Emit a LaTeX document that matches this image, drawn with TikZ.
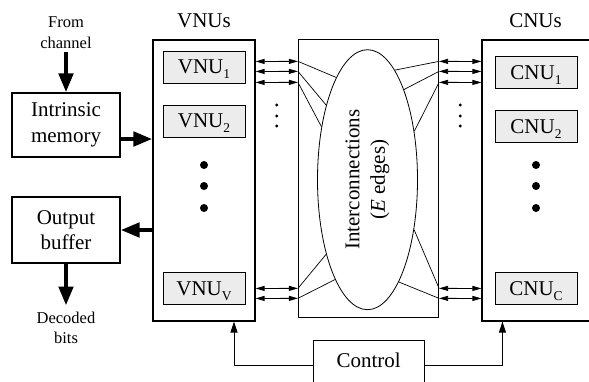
\documentclass[tikz,border=0pt]{standalone}
\usepackage{fontspec}
\setmainfont{Liberation Serif}
\usetikzlibrary{positioning,arrows.meta,shapes.geometric}
\definecolor{nuFill}{RGB}{236,236,236}
\newcommand{\nusub}[1]{\raisebox{-5pt}{\fontsize{13.5}{13.5}\selectfont #1}}

\begin{document}
\begin{tikzpicture}[x=1pt,y=-1pt,
      font=\fontsize{21}{25.5}\selectfont,
      unit/.style={draw,line width=1.1pt,inner sep=0pt},
      nu/.style={draw,line width=0.9pt,fill=nuFill,minimum width=82pt,minimum height=32pt,inner sep=0pt,text depth=0pt},
      blk/.style={draw,line width=1.1pt,minimum width=108pt,align=center,inner sep=0pt},
      note/.style={font=\fontsize{16.5}{20.5}\selectfont,align=center},
      bigarr/.style={-{Triangle[length=19pt,width=14pt]},line width=4.5pt},
      dbl/.style={{Triangle[length=9pt,width=5pt]}-{Triangle[length=9pt,width=5pt]},line width=0.8pt},
      ctl/.style={-{Triangle[length=11pt,width=7pt]},line width=0.9pt},
      wire/.style={line width=0.7pt}]
    \useasboundingbox (0,0) rectangle (589,381);
    \clip (0,0) rectangle (589,381);
    % processing units
    \node[unit,minimum width=102pt,minimum height=281pt] (vnus) at (204,180.5) {};
    \node[unit,minimum width=140pt,minimum height=278pt] (icbox) at (368.5,178.9) {};
    \node[unit,minimum width=120pt,minimum height=281pt] (cnus) at (542,180.5) {};
    \node (vnulbl) at (204,21) {VNUs};
    \node (cnulbl) at (535.5,21) {CNUs};
    \node[nu] (vnu1) at (204,67) {VNU\nusub{1}};
    \node[nu] (vnu2) at (204,121) {VNU\nusub{2}};
    \node[nu] (vnuv) at (204,288.6) {VNU\nusub{V}};
    \node[nu] (cnu1) at (536,72.2) {CNU\nusub{1}};
    \node[nu] (cnu2) at (536,126.3) {CNU\nusub{2}};
    \node[nu] (cnuc) at (536,288.6) {CNU\nusub{C}};
    \foreach \y in {165,186,208} {
      \fill (204,\y) circle (4pt);
      \fill (536,\y) circle (4pt);
    }
    \foreach \y in {105,116,126} {
      \fill (276.7,\y) circle (1.6pt);
      \fill (460.3,\y) circle (1.6pt);
    }
    % interconnections
    \node[ellipse,draw,line width=0.8pt,minimum width=100pt,minimum height=260pt,inner sep=0pt] (ic) at (367.5,179.7) {};
    \node[rotate=90,align=center] (ictxt) at (ic.center) {Interconnections\\(\textit{E} edges)};
    \foreach \d/\a in {22/107.8,32/119.2,43/131.9,249/241.7,259/252.3}
      \draw[wire] ([yshift=-\d pt]icbox.north west) -- (ic.\a);
    \foreach \d/\a in {22/76,32/68.3,43/46.6,249/313,259/287.8}
      \draw[wire] ([yshift=-\d pt]icbox.north east) -- (ic.\a);
    \foreach \d in {22,32,43,249,259} {
      \draw[dbl] ([yshift=-\d pt]vnus.north east) -- ([yshift=-\d pt]icbox.north west);
      \draw[dbl] ([yshift=-\d pt]icbox.north east) -- ([yshift=-\d pt]cnus.north west);
    }
    % memories
    \node[blk,minimum height=64pt] (mem) at (66,125) {Intrinsic\\memory};
    \node[blk,minimum height=66pt] (out) at (66,230) {Output\\buffer};
    \node[note,above=40pt of mem,inner sep=4pt] (chan) {From\\channel};
    \node[note,below=42pt of out,inner sep=6pt] (dec) {Decoded\\bits};
    \draw[bigarr] (chan.south) -- (mem.north);
    \draw[bigarr] (out.south) -- (dec.north);
    \coordinate (memout) at ([yshift=-14pt]mem.east);
    \draw[bigarr] (memout) -- (memout -| vnus.west);
    \draw[bigarr] (vnus.west |- out.east) -- (out.east);
    % control
    \node[blk,minimum width=111pt,anchor=north,text height=15pt,text depth=30pt,inner ysep=12pt] (ctrl) at (368.7,340) {Control};
    \draw[ctl] (ctrl.mid west) -| ([xshift=30pt]vnus.south);
    \draw[ctl] (ctrl.mid east) -| ([xshift=21pt]cnus.south west);
  \end{tikzpicture}
\end{document}
